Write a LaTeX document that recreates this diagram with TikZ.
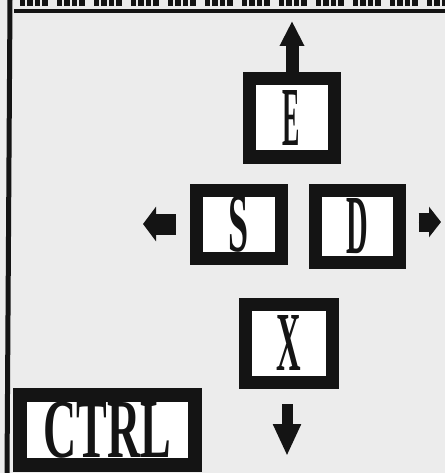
\documentclass[tikz,border=0pt]{standalone}
\usepackage{fontspec}
\newfontfamily\keyfont{Liberation Serif}
\usetikzlibrary{arrows.meta}
\definecolor{paper}{HTML}{ECECEC}
\definecolor{ink}{HTML}{141414}
\begin{document}
\begin{tikzpicture}[x=1pt,y=-1pt,
  key/.style={draw=ink, line width=13pt, fill=white, inner sep=0pt,
    font=\keyfont\bfseries\fontsize{40}{40}\selectfont, text=ink},
  keyarrow/.style={draw=ink, fill=ink}]
\useasboundingbox (0,0) rectangle (445,473);
\fill[paper] (0,0) rectangle (445,473);
% frame and cut-off heading
\draw[ink, line width=4pt] (14,11.5) -- (445,11.5);
\draw[ink, line width=7pt, dash pattern=on 5pt off 2pt on 6pt off 2pt on 5pt off 2pt on 6pt off 9pt] (20,3) -- (445,3);
\draw[ink, line width=5pt] (10,0) -- (7,473);
% keys
\node[key, minimum width=85pt, minimum height=78pt] (E) at (291.5,118) {\scalebox{0.65}[2.1]{E}};
\node[key, minimum width=85pt, minimum height=68pt] (S) at (239,224) {\scalebox{0.9}[2.1]{S}};
\node[key, minimum width=84pt, minimum height=72pt] (D) at (357,226) {\scalebox{0.75}[2.1]{D}};
\node[key, minimum width=87pt, minimum height=78pt] (X) at (289,343) {\scalebox{0.85}[2.1]{X}};
\node[key, line width=14pt, minimum width=175pt, minimum height=70pt] (C) at (107.5,430) {\scalebox{1.15}[2.1]{CTRL}};
% arrow ends
\coordinate (upTip) at (292,21);
\coordinate (leftTip) at (143,224);
\coordinate (rightTip) at (441,222);
\coordinate (downTip) at (287,456);
% arrows
\draw[keyarrow, line width=13pt, -{Triangle[length=25pt,width=23pt]}] ([xshift=0.5pt]E.north) -- (upTip);
\draw[keyarrow, line width=21pt, -{Triangle[length=13pt,width=34pt]}] ([xshift=-14.5pt]S.west) -- (leftTip);
\draw[keyarrow, line width=19pt, -{Triangle[length=12pt,width=30pt]}] ([xshift=13pt,yshift=4pt]D.east) -- (rightTip);
\draw[keyarrow, line width=11pt, -{Triangle[length=32pt,width=26pt]}] ([xshift=-2pt,yshift=-15.5pt]X.south) -- (downTip);
\end{tikzpicture}
\end{document}
